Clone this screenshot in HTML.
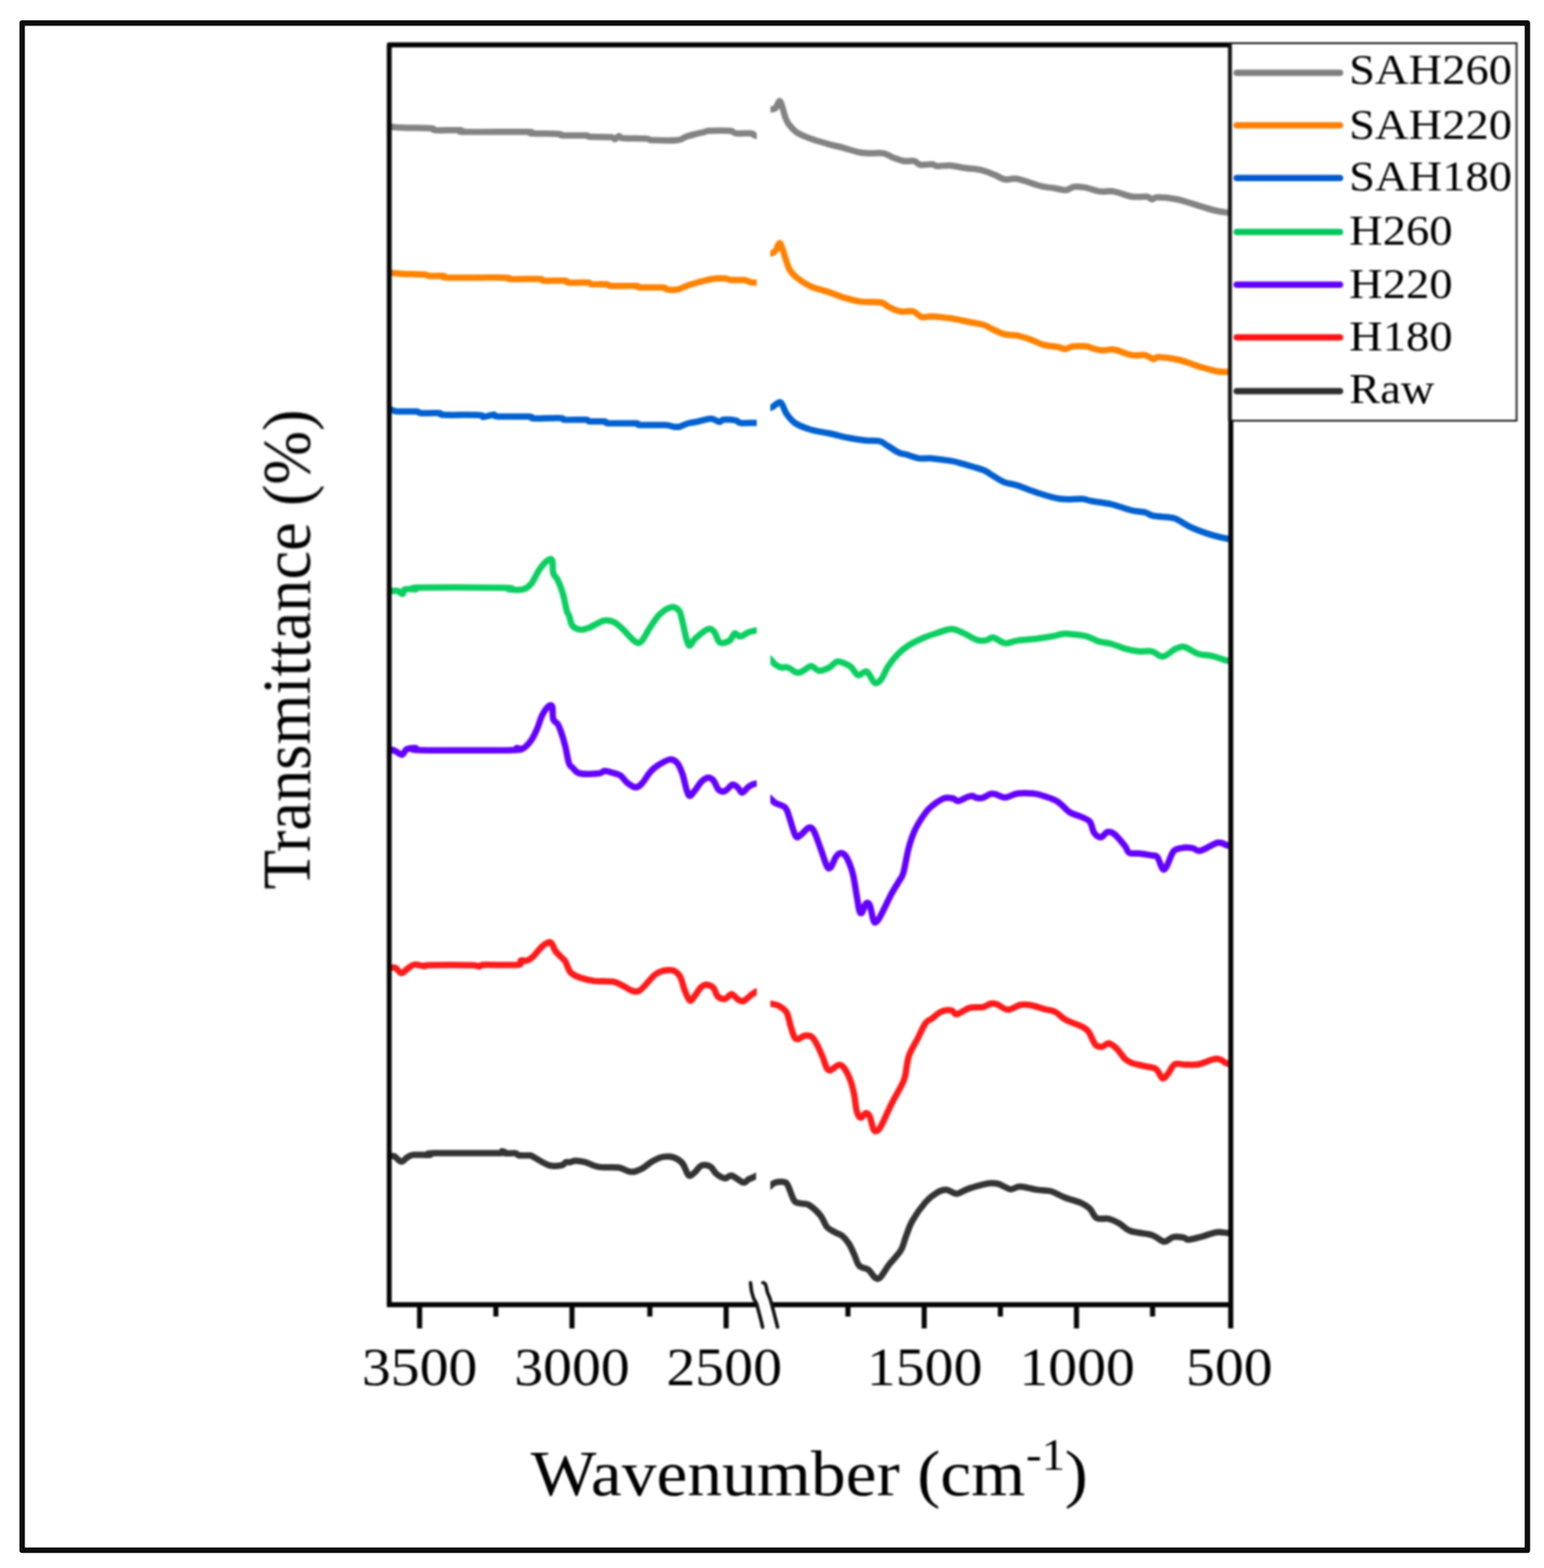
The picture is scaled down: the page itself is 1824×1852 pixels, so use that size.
<!DOCTYPE html>
<html><head><meta charset="utf-8"><title>FTIR spectra</title>
<style>
html,body{margin:0;padding:0;background:#fff;}
body{width:1824px;height:1852px;overflow:hidden;}
svg{display:block;}
text{font-family:"Liberation Serif","Times New Roman",serif;fill:#000;}
</style></head><body>
<svg width="1824" height="1852" viewBox="0 0 1824 1852">
<rect x="0" y="0" width="1824" height="1852" fill="#fff"/>
<!-- outer frame -->
<rect x="26.2" y="27.2" width="1778.2" height="1803.8" fill="none" stroke="#0d0d0d" stroke-width="6.4" stroke-linejoin="round"/>

<defs>
<clipPath id="clipL"><rect x="459" y="53" width="434.2" height="1488"/></clipPath>
<clipPath id="clipR"><rect x="910.2" y="53" width="543" height="1488"/></clipPath>
<filter id="soft" filterUnits="userSpaceOnUse" x="40" y="40" width="1760" height="1780" color-interpolation-filters="sRGB"><feGaussianBlur stdDeviation="0.9"/></filter>
</defs>
<g id="chart" filter="url(#soft)">
<!-- CURVES -->
<g id="curves" fill="none" stroke-width="7.5" stroke-linejoin="round" stroke-linecap="butt">
<path clip-path="url(#clipL)" stroke="#333333" d="M457.0 1365.3 C457.7 1365.3 459.5 1365.2 461.0 1365.3 C462.5 1365.4 463.9 1364.8 466.1 1365.9 C468.3 1367.0 471.6 1371.9 474.1 1372.1 C476.6 1372.3 478.5 1368.4 480.9 1367.1 C483.3 1365.8 483.8 1364.6 488.3 1364.1 C492.8 1363.6 504.1 1364.4 508.0 1364.1 C511.9 1363.8 497.9 1362.3 511.7 1362.0 C525.5 1361.7 577.1 1362.4 590.7 1362.0 C604.3 1361.6 592.2 1359.7 593.2 1359.7 C594.2 1359.7 594.2 1361.8 596.9 1362.2 C599.6 1362.6 606.5 1361.8 609.2 1362.2 C611.9 1362.6 610.2 1364.3 612.9 1364.7 C615.6 1365.1 622.3 1364.4 625.2 1364.7 C628.1 1365.0 626.3 1364.5 630.2 1366.5 C634.1 1368.5 643.2 1374.8 648.7 1376.4 C654.2 1378.1 660.2 1377.0 663.5 1376.4 C666.8 1375.8 666.8 1373.3 668.4 1372.7 C670.0 1372.1 671.3 1373.0 673.3 1372.7 C675.2 1372.4 677.1 1370.9 680.1 1370.9 C683.1 1370.9 686.8 1371.5 691.4 1372.7 C696.0 1374.0 701.3 1377.4 707.8 1378.4 C714.3 1379.5 724.2 1378.0 730.5 1379.0 C736.8 1380.0 741.1 1383.9 745.7 1384.1 C750.3 1384.3 754.1 1382.4 758.3 1380.3 C762.5 1378.2 766.7 1373.8 770.9 1371.5 C775.1 1369.2 779.3 1367.1 783.5 1366.4 C787.7 1365.7 792.3 1365.8 796.1 1367.1 C799.9 1368.4 803.2 1370.4 806.2 1374.0 C809.2 1377.6 811.3 1386.8 813.8 1388.5 C816.3 1390.2 818.8 1386.1 821.3 1384.1 C823.8 1382.1 825.9 1377.5 828.9 1376.5 C831.9 1375.5 836.1 1376.1 839.0 1377.8 C841.9 1379.5 843.6 1384.3 846.5 1386.6 C849.4 1388.9 853.6 1391.4 856.6 1391.7 C859.6 1392.0 860.6 1387.7 864.2 1388.5 C867.8 1389.3 874.7 1396.0 878.1 1396.7 C881.5 1397.4 882.2 1394.1 884.4 1392.9 C886.6 1391.8 889.4 1390.8 891.5 1389.8 C893.6 1388.8 896.1 1387.5 897.0 1387.0"/>
<path clip-path="url(#clipR)" stroke="#333333" d="M906.0 1404.0 C906.8 1403.4 908.9 1401.7 910.5 1400.5 C912.1 1399.3 912.8 1397.6 915.4 1396.9 C918.0 1396.2 923.5 1395.6 926.1 1396.1 C928.7 1396.6 928.7 1396.3 930.7 1400.0 C932.8 1403.7 935.8 1414.8 938.4 1418.4 C941.0 1422.0 943.3 1420.6 946.1 1421.4 C948.9 1422.2 951.5 1420.7 955.3 1423.0 C959.1 1425.3 965.5 1431.0 969.1 1435.3 C972.7 1439.6 974.0 1445.8 976.8 1449.1 C979.6 1452.4 982.9 1453.4 986.0 1455.2 C989.1 1457.0 992.4 1457.5 995.2 1459.8 C998.0 1462.1 1000.6 1465.4 1002.9 1469.0 C1005.2 1472.6 1007.0 1477.0 1009.0 1481.3 C1011.0 1485.6 1012.3 1492.0 1015.1 1495.1 C1017.9 1498.2 1022.8 1497.4 1025.9 1499.7 C1029.0 1502.0 1031.3 1507.5 1033.6 1509.0 C1035.9 1510.5 1036.9 1511.6 1039.7 1509.0 C1042.5 1506.4 1046.3 1499.0 1050.4 1493.6 C1054.5 1488.2 1061.0 1482.3 1064.3 1476.7 C1067.6 1471.1 1068.1 1465.7 1070.4 1459.8 C1072.7 1453.9 1074.3 1448.1 1078.1 1441.4 C1081.9 1434.8 1088.6 1425.4 1093.4 1419.9 C1098.2 1414.4 1103.1 1410.8 1107.2 1408.4 C1111.3 1406.0 1114.2 1405.0 1118.0 1405.3 C1121.8 1405.5 1126.2 1410.0 1130.3 1409.9 C1134.4 1409.8 1137.5 1406.4 1142.6 1404.6 C1147.7 1402.8 1156.4 1400.4 1161.0 1399.2 C1165.6 1398.0 1167.1 1397.7 1170.2 1397.5 C1173.3 1397.3 1175.6 1397.1 1179.5 1398.3 C1183.4 1399.5 1189.5 1404.1 1193.8 1404.6 C1198.0 1405.1 1199.7 1401.4 1205.0 1401.5 C1210.3 1401.6 1219.5 1404.5 1225.6 1405.4 C1231.7 1406.3 1236.2 1405.5 1241.5 1407.0 C1246.8 1408.5 1251.3 1411.8 1257.4 1414.2 C1263.5 1416.6 1273.1 1419.0 1278.1 1421.3 C1283.1 1423.5 1284.7 1424.8 1287.6 1427.7 C1290.5 1430.6 1291.9 1436.8 1295.6 1438.8 C1299.3 1440.8 1305.4 1438.5 1309.9 1439.6 C1314.4 1440.7 1318.4 1442.8 1322.6 1445.2 C1326.8 1447.6 1328.9 1451.7 1335.3 1453.9 C1341.7 1456.2 1354.2 1456.6 1360.8 1458.7 C1367.4 1460.8 1370.9 1466.2 1375.1 1466.6 C1379.3 1467.0 1382.2 1461.9 1386.2 1461.1 C1390.2 1460.3 1396.0 1461.4 1398.9 1461.9 C1401.8 1462.4 1400.5 1464.4 1403.7 1464.3 C1406.9 1464.2 1412.4 1462.6 1418.0 1461.1 C1423.6 1459.6 1431.8 1456.3 1437.1 1455.5 C1442.4 1454.7 1446.6 1456.2 1449.8 1456.3 C1453.0 1456.4 1455.0 1456.3 1456.0 1456.3"/>
<path clip-path="url(#clipL)" stroke="#ff1a1a" d="M457.0 1143.1 C457.7 1143.1 459.3 1143.1 461.0 1143.1 C462.7 1143.1 465.1 1142.1 467.3 1143.1 C469.5 1144.1 471.6 1149.2 474.1 1149.3 C476.6 1149.4 479.5 1145.3 482.1 1143.7 C484.7 1142.1 486.2 1139.8 489.5 1139.4 C492.8 1139.0 499.0 1141.2 501.9 1141.3 C504.8 1141.4 497.6 1140.2 506.8 1140.0 C516.0 1139.8 547.5 1139.8 557.4 1140.0 C567.3 1140.2 563.5 1141.6 566.0 1141.5 C568.5 1141.4 564.6 1139.9 572.2 1139.6 C579.8 1139.3 604.5 1140.4 611.7 1139.6 C618.9 1138.8 613.5 1135.3 615.4 1134.5 C617.2 1133.7 620.3 1135.3 622.8 1134.5 C625.3 1133.7 627.3 1132.2 630.2 1129.5 C633.1 1126.8 636.9 1121.2 640.0 1118.4 C643.1 1115.6 646.6 1113.4 648.7 1112.9 C650.8 1112.4 651.2 1113.8 652.4 1115.5 C653.6 1117.2 654.4 1120.7 656.0 1123.0 C657.6 1125.3 660.1 1127.5 662.0 1129.5 C663.9 1131.5 666.0 1132.8 667.5 1135.0 C669.0 1137.2 669.8 1140.6 671.0 1143.0 C672.2 1145.4 672.7 1147.6 675.0 1149.5 C677.3 1151.4 680.5 1153.1 685.0 1154.6 C689.5 1156.1 695.2 1157.8 701.7 1158.6 C708.2 1159.4 718.6 1158.6 724.2 1159.5 C729.9 1160.4 732.0 1162.4 735.6 1164.1 C739.2 1165.8 742.3 1168.8 745.7 1169.8 C749.1 1170.8 751.2 1172.8 755.8 1169.8 C760.4 1166.8 768.8 1155.4 773.4 1151.5 C778.0 1147.6 779.7 1147.3 783.5 1146.5 C787.3 1145.7 792.7 1145.2 796.1 1146.5 C799.5 1147.8 801.6 1150.2 803.7 1154.0 C805.8 1157.8 806.8 1164.6 808.7 1169.2 C810.6 1173.8 812.9 1180.8 815.0 1181.8 C817.1 1182.8 819.2 1178.0 821.3 1175.5 C823.4 1173.0 825.5 1168.8 827.6 1166.7 C829.7 1164.6 831.4 1162.9 833.9 1162.9 C836.4 1162.9 840.5 1164.4 842.8 1166.7 C845.1 1169.0 845.5 1174.5 847.8 1176.7 C850.1 1178.9 853.9 1180.3 856.6 1179.9 C859.3 1179.5 861.7 1174.1 864.2 1174.2 C866.7 1174.3 869.5 1179.1 871.8 1180.5 C874.1 1181.9 875.6 1183.2 878.1 1182.4 C880.6 1181.6 884.8 1177.1 886.9 1175.5 C889.0 1173.9 889.0 1174.1 890.7 1173.0 C892.4 1171.9 896.0 1169.7 897.0 1169.0"/>
<path clip-path="url(#clipR)" stroke="#ff1a1a" d="M906.0 1185.5 C906.9 1185.5 909.2 1185.3 911.5 1185.7 C913.8 1186.1 917.0 1186.3 920.0 1188.0 C923.0 1189.7 926.9 1191.9 929.2 1195.7 C931.5 1199.5 932.3 1206.2 933.8 1211.1 C935.3 1216.0 936.9 1222.2 938.4 1224.9 C939.9 1227.6 941.0 1227.5 943.0 1227.2 C945.0 1226.9 948.2 1223.8 950.7 1223.3 C953.2 1222.8 956.0 1222.6 958.3 1224.1 C960.6 1225.6 962.2 1228.3 964.5 1232.5 C966.8 1236.7 970.2 1244.5 972.2 1249.4 C974.2 1254.3 975.3 1259.3 976.8 1261.7 C978.3 1264.1 979.1 1264.6 981.4 1264.0 C983.7 1263.4 988.0 1258.4 990.6 1257.9 C993.2 1257.4 994.4 1258.0 996.7 1260.9 C999.0 1263.8 1002.4 1270.2 1004.4 1275.5 C1006.4 1280.8 1007.7 1286.2 1009.0 1292.4 C1010.3 1298.6 1010.8 1307.8 1012.1 1312.4 C1013.4 1317.0 1014.9 1319.7 1016.7 1320.1 C1018.5 1320.5 1021.0 1315.0 1022.8 1314.7 C1024.6 1314.4 1025.9 1315.3 1027.4 1318.5 C1028.9 1321.7 1030.5 1331.1 1032.0 1333.9 C1033.5 1336.7 1035.1 1336.2 1036.6 1335.4 C1038.1 1334.6 1038.4 1334.7 1041.2 1329.3 C1044.0 1323.9 1049.9 1310.4 1053.5 1303.2 C1057.1 1296.0 1060.1 1291.4 1062.7 1286.3 C1065.3 1281.2 1067.1 1278.9 1068.9 1272.5 C1070.7 1266.1 1071.0 1255.6 1073.5 1247.9 C1076.0 1240.2 1080.9 1233.0 1084.2 1226.4 C1087.5 1219.8 1090.6 1212.4 1093.4 1208.5 C1096.2 1204.6 1097.9 1205.3 1101.0 1203.0 C1104.1 1200.7 1108.1 1196.5 1111.9 1194.9 C1115.8 1193.3 1121.0 1192.9 1124.1 1193.4 C1127.2 1193.9 1126.7 1198.5 1130.3 1198.0 C1133.9 1197.5 1140.5 1191.7 1145.6 1190.3 C1150.7 1188.9 1156.9 1190.4 1161.0 1189.6 C1165.1 1188.8 1167.4 1186.1 1170.2 1185.5 C1173.0 1184.9 1174.5 1185.0 1177.9 1186.2 C1181.3 1187.4 1186.2 1192.5 1190.7 1192.6 C1195.2 1192.7 1200.5 1187.9 1205.0 1187.0 C1209.5 1186.1 1212.9 1186.5 1217.7 1187.3 C1222.5 1188.1 1228.8 1190.5 1233.6 1191.8 C1238.4 1193.1 1242.1 1192.9 1246.3 1195.0 C1250.5 1197.1 1253.7 1201.6 1259.0 1204.5 C1264.3 1207.4 1273.6 1210.1 1278.1 1212.5 C1282.6 1214.9 1283.4 1215.2 1286.1 1218.8 C1288.8 1222.4 1291.3 1231.0 1294.0 1233.9 C1296.7 1236.8 1299.3 1236.6 1302.0 1236.3 C1304.7 1236.0 1307.0 1231.9 1309.9 1232.3 C1312.8 1232.7 1316.2 1235.7 1319.4 1238.7 C1322.6 1241.8 1326.1 1247.8 1329.0 1250.6 C1331.9 1253.4 1332.9 1253.9 1336.9 1255.4 C1340.9 1256.9 1348.0 1258.2 1352.8 1259.4 C1357.6 1260.6 1362.0 1260.1 1365.5 1262.5 C1369.0 1264.9 1371.1 1272.8 1373.5 1273.7 C1375.9 1274.6 1377.5 1270.9 1379.9 1268.1 C1382.3 1265.3 1384.4 1258.8 1387.8 1257.0 C1391.2 1255.2 1395.7 1257.5 1400.5 1257.5 C1405.3 1257.5 1410.3 1258.2 1416.4 1257.0 C1422.5 1255.8 1431.5 1250.7 1437.1 1250.6 C1442.7 1250.5 1446.6 1255.3 1449.8 1256.2 C1453.0 1257.1 1455.0 1256.2 1456.0 1256.2"/>
<path clip-path="url(#clipL)" stroke="#6400ff" d="M457.0 885.3 C457.7 885.3 459.3 885.0 461.0 885.3 C462.7 885.6 465.0 886.2 467.3 887.2 C469.6 888.2 472.4 891.9 474.7 891.5 C477.0 891.1 478.2 886.0 480.9 884.7 C483.6 883.4 488.3 883.3 490.8 883.5 C493.3 883.7 476.4 885.5 495.7 885.9 C515.0 886.3 587.6 886.3 606.7 885.9 C625.8 885.5 608.5 883.8 610.4 883.5 C612.2 883.2 614.9 885.6 617.8 884.1 C620.7 882.6 624.8 878.3 627.7 874.2 C630.6 870.1 633.1 864.1 635.1 859.4 C637.1 854.7 638.0 849.9 640.0 845.8 C642.0 841.7 645.3 836.6 647.4 834.7 C649.5 832.9 651.4 832.2 652.4 834.7 C653.4 837.2 652.4 845.8 653.6 849.5 C654.8 853.2 657.5 852.0 659.8 856.9 C662.1 861.8 665.2 871.7 667.2 879.1 C669.2 886.5 670.6 896.7 672.1 901.3 C673.6 905.9 674.1 904.6 676.3 906.6 C678.5 908.6 679.9 912.4 685.1 913.5 C690.4 914.6 703.0 914.0 707.8 913.5 C712.6 913.0 711.4 910.5 714.1 910.4 C716.8 910.3 721.0 912.0 724.2 912.9 C727.4 913.8 730.4 914.1 733.1 916.0 C735.8 917.9 737.7 921.9 740.6 924.2 C743.5 926.5 747.8 929.7 750.7 929.9 C753.7 930.1 755.3 928.5 758.3 925.5 C761.2 922.5 765.2 915.2 768.4 911.6 C771.5 908.0 773.4 906.4 777.2 904.0 C781.0 901.6 787.3 897.6 791.1 897.1 C794.9 896.6 797.4 898.1 799.9 900.9 C802.4 903.7 804.3 908.7 806.2 914.1 C808.1 919.5 809.7 928.8 811.2 933.1 C812.7 937.4 813.3 940.0 815.0 940.0 C816.7 940.0 819.0 935.9 821.3 933.1 C823.6 930.3 826.4 925.4 828.9 923.0 C831.4 920.6 834.2 918.7 836.5 918.5 C838.8 918.3 840.7 919.3 842.8 921.7 C844.9 924.1 846.8 931.0 849.1 933.1 C851.4 935.2 853.9 935.4 856.6 934.3 C859.3 933.2 863.0 927.3 865.5 926.7 C868.0 926.1 869.9 928.9 871.8 930.5 C873.7 932.1 874.7 936.4 876.8 936.2 C878.9 936.0 882.1 931.0 884.4 929.3 C886.7 927.6 888.6 926.7 890.7 926.0 C892.8 925.3 896.0 925.2 897.0 925.0"/>
<path clip-path="url(#clipR)" stroke="#6400ff" d="M906.0 939.5 C906.8 940.2 908.8 942.0 910.5 943.5 C912.2 945.0 913.1 946.8 916.0 948.5 C918.9 950.2 924.9 951.1 927.6 953.8 C930.3 956.5 930.2 958.9 932.2 964.5 C934.2 970.1 937.6 983.9 939.9 987.5 C942.2 991.1 943.5 987.6 946.1 986.0 C948.7 984.4 952.8 978.4 955.3 977.6 C957.8 976.8 959.1 977.4 961.4 981.4 C963.7 985.4 966.5 994.5 969.1 1001.4 C971.7 1008.3 974.8 1019.1 976.8 1022.9 C978.8 1026.7 979.6 1026.2 981.4 1024.4 C983.2 1022.6 985.5 1014.9 987.5 1012.1 C989.5 1009.3 991.6 1007.5 993.6 1007.5 C995.6 1007.5 997.5 1008.0 999.8 1012.1 C1002.1 1016.2 1005.5 1024.4 1007.5 1032.1 C1009.5 1039.8 1010.8 1051.0 1012.1 1058.2 C1013.4 1065.4 1014.1 1071.8 1015.1 1075.1 C1016.1 1078.4 1016.9 1079.4 1018.2 1078.1 C1019.5 1076.8 1021.3 1068.9 1022.8 1067.4 C1024.3 1065.9 1025.9 1065.6 1027.4 1068.9 C1028.9 1072.2 1030.7 1084.0 1032.0 1087.3 C1033.3 1090.6 1033.8 1089.7 1035.1 1088.9 C1036.4 1088.1 1036.6 1088.3 1039.7 1082.7 C1042.8 1077.1 1049.7 1062.3 1053.5 1055.1 C1057.3 1047.9 1060.4 1043.8 1062.7 1039.7 C1065.0 1035.6 1065.5 1036.9 1067.3 1030.5 C1069.1 1024.1 1071.2 1009.8 1073.5 1001.4 C1075.8 993.0 1077.8 986.8 1081.1 979.9 C1084.4 973.0 1089.8 964.8 1093.4 959.9 C1097.0 955.0 1099.0 953.5 1102.6 950.7 C1106.2 947.9 1111.1 944.3 1114.9 943.0 C1118.8 941.7 1122.9 942.5 1125.7 943.0 C1128.5 943.5 1129.0 946.4 1131.8 946.1 C1134.6 945.9 1139.8 942.5 1142.6 941.5 C1145.4 940.5 1146.9 939.9 1148.7 940.0 C1150.5 940.1 1151.2 941.9 1153.3 942.3 C1155.3 942.7 1158.2 943.1 1161.0 942.3 C1163.8 941.5 1167.6 938.4 1170.2 937.7 C1172.8 937.0 1173.5 937.4 1176.4 938.1 C1179.3 938.8 1183.3 942.1 1187.5 942.0 C1191.7 941.9 1196.2 938.1 1201.8 937.3 C1207.4 936.5 1215.6 936.8 1220.9 937.3 C1226.2 937.8 1228.8 938.8 1233.6 940.4 C1238.4 942.0 1244.5 943.6 1249.5 946.8 C1254.5 950.0 1259.0 956.5 1263.8 959.5 C1268.6 962.5 1274.1 963.2 1278.1 965.1 C1282.1 967.0 1285.2 967.6 1287.6 970.6 C1290.0 973.6 1290.3 980.4 1292.4 983.4 C1294.5 986.4 1297.8 989.0 1300.4 988.9 C1303.1 988.8 1305.7 983.2 1308.3 982.6 C1310.9 982.0 1312.8 982.2 1316.3 985.0 C1319.8 987.8 1326.1 995.6 1329.0 999.3 C1331.9 1003.0 1331.1 1005.8 1333.8 1007.2 C1336.5 1008.7 1340.4 1007.5 1344.9 1008.0 C1349.4 1008.5 1357.1 1009.7 1360.8 1010.4 C1364.5 1011.1 1365.0 1009.4 1367.1 1012.0 C1369.2 1014.6 1371.6 1024.5 1373.5 1026.3 C1375.4 1028.1 1376.2 1026.5 1378.3 1023.1 C1380.4 1019.7 1383.3 1009.2 1386.2 1005.6 C1389.1 1002.0 1392.1 1002.3 1395.8 1001.6 C1399.5 1000.9 1404.8 1001.1 1408.5 1001.6 C1412.2 1002.1 1413.0 1005.8 1418.0 1004.8 C1423.0 1003.8 1433.4 996.3 1438.7 995.3 C1444.0 994.2 1446.9 998.0 1449.8 998.5 C1452.7 999.0 1455.0 998.5 1456.0 998.5"/>
<path clip-path="url(#clipL)" stroke="#0bcf60" d="M457.0 698.0 C457.7 698.0 458.9 698.0 461.0 698.0 C463.1 698.0 467.4 697.4 469.8 698.0 C472.2 698.6 474.1 701.8 475.5 701.5 C476.9 701.2 475.8 696.9 478.5 696.0 C481.2 695.1 488.8 696.3 491.5 696.0 C494.2 695.7 477.4 694.3 495.0 694.0 C512.6 693.7 579.3 693.9 596.9 694.2 C614.5 694.6 597.1 695.8 600.6 696.1 C604.1 696.4 613.3 697.2 617.8 696.1 C622.3 695.0 624.4 693.3 627.7 689.3 C631.0 685.3 634.3 676.7 637.6 672.1 C640.9 667.5 644.9 663.2 647.4 661.6 C649.9 660.0 651.4 659.6 652.4 662.2 C653.4 664.8 652.6 673.3 653.6 677.0 C654.6 680.7 656.6 680.5 658.5 684.4 C660.4 688.3 662.9 694.2 664.7 700.4 C666.6 706.6 668.3 716.8 669.6 721.4 C670.9 726.0 671.4 724.8 672.5 727.8 C673.6 730.8 674.2 736.6 676.3 739.2 C678.4 741.8 682.0 743.2 685.1 743.6 C688.2 744.0 691.8 742.9 695.2 741.7 C698.6 740.6 702.1 738.2 705.3 736.7 C708.4 735.2 710.7 733.2 714.1 732.9 C717.5 732.6 721.9 733.1 725.5 734.8 C729.1 736.5 731.4 739.1 735.6 743.0 C739.8 746.9 746.9 755.8 750.7 758.1 C754.5 760.4 755.3 759.8 758.3 756.8 C761.2 753.8 764.8 745.6 768.4 740.4 C772.0 735.1 775.5 729.2 779.7 725.3 C783.9 721.4 789.8 717.7 793.6 717.1 C797.4 716.5 800.3 718.7 802.4 721.5 C804.5 724.3 804.7 728.4 806.2 734.1 C807.7 739.8 809.7 750.9 811.2 755.6 C812.7 760.3 813.3 762.7 815.0 762.5 C816.7 762.3 817.7 757.5 821.3 754.3 C824.9 751.0 832.7 744.3 836.5 743.0 C840.3 741.7 841.7 744.1 844.0 746.7 C846.3 749.3 847.3 757.0 850.3 758.7 C853.2 760.4 858.8 758.6 861.7 756.8 C864.7 755.0 865.9 748.8 868.0 748.0 C870.1 747.2 871.6 752.0 874.3 751.8 C877.0 751.6 881.5 747.8 884.4 746.7 C887.3 745.6 889.4 745.5 891.5 745.0 C893.6 744.5 896.1 743.8 897.0 743.5"/>
<path clip-path="url(#clipR)" stroke="#0bcf60" d="M906.0 775.5 C906.8 776.1 908.8 777.4 910.5 779.0 C912.2 780.6 913.9 783.5 916.0 785.0 C918.1 786.5 920.5 787.8 923.0 788.3 C925.5 788.8 927.6 787.3 930.7 788.3 C933.8 789.3 938.3 793.9 941.4 794.5 C944.5 795.1 946.3 793.5 949.1 792.2 C951.9 790.9 955.2 786.8 958.3 786.8 C961.4 786.8 963.9 792.0 967.5 792.2 C971.1 792.5 976.2 790.1 979.8 788.3 C983.4 786.5 985.7 782.0 989.0 781.4 C992.3 780.8 997.0 783.4 999.8 784.5 C1002.6 785.6 1003.6 786.1 1005.9 788.3 C1008.2 790.5 1010.8 796.7 1013.6 797.5 C1016.4 798.3 1020.5 792.9 1022.8 792.9 C1025.1 792.9 1025.6 795.2 1027.4 797.5 C1029.2 799.8 1031.3 805.9 1033.6 806.7 C1035.9 807.5 1038.7 805.3 1041.2 802.1 C1043.8 798.9 1045.6 792.5 1048.9 787.5 C1052.2 782.5 1057.1 776.4 1061.2 772.2 C1065.3 768.0 1068.4 765.4 1073.5 762.2 C1078.6 759.0 1086.3 755.4 1091.9 753.0 C1097.5 750.6 1101.8 749.3 1107.2 747.6 C1112.6 745.9 1119.0 743.0 1124.1 743.0 C1129.2 743.0 1132.8 745.4 1137.9 747.6 C1143.0 749.8 1150.2 754.7 1154.8 756.1 C1159.4 757.5 1162.5 756.6 1165.6 756.1 C1168.7 755.6 1169.6 752.4 1173.3 753.0 C1177.0 753.6 1182.8 759.1 1187.5 759.7 C1192.2 760.3 1195.5 757.5 1201.8 756.6 C1208.1 755.7 1219.0 755.0 1225.6 754.2 C1232.2 753.4 1236.2 752.7 1241.5 751.8 C1246.8 750.9 1252.9 749.0 1257.4 748.6 C1261.9 748.2 1264.1 748.9 1268.6 749.4 C1273.1 749.9 1279.7 750.5 1284.5 751.8 C1289.3 753.1 1292.4 755.9 1297.2 757.4 C1302.0 758.9 1307.8 759.0 1313.1 760.5 C1318.4 762.0 1323.7 764.6 1329.0 766.1 C1334.3 767.6 1339.6 768.8 1344.9 769.3 C1350.2 769.8 1356.0 768.2 1360.8 769.3 C1365.6 770.3 1369.0 776.0 1373.5 775.6 C1378.0 775.2 1383.8 768.9 1387.8 766.9 C1391.8 764.9 1394.6 763.8 1397.3 763.7 C1400.0 763.6 1400.5 764.6 1403.7 766.1 C1406.9 767.6 1411.6 771.0 1416.4 772.5 C1421.2 774.0 1426.7 773.5 1432.3 774.8 C1437.9 776.1 1445.8 779.5 1449.8 780.4 C1453.8 781.3 1455.0 780.4 1456.0 780.4"/>
<path clip-path="url(#clipL)" stroke="#0060d0" d="M457.0 483.5 C457.7 483.5 459.1 483.1 461.2 483.5 C463.3 483.9 464.7 485.6 469.8 486.0 C474.9 486.4 487.5 485.7 492.0 486.0 C496.5 486.3 492.5 487.6 497.0 487.9 C501.5 488.2 514.7 487.5 519.2 487.9 C523.7 488.2 516.3 489.6 524.1 490.0 C531.9 490.4 558.2 489.8 566.0 490.2 C573.8 490.6 568.1 492.6 571.0 492.5 C573.9 492.4 580.4 489.9 583.3 489.8 C586.2 489.7 581.2 491.6 588.2 492.0 C595.2 492.4 618.2 491.6 625.2 492.0 C632.2 492.4 624.0 494.0 630.2 494.3 C636.4 494.6 656.1 493.6 662.3 493.9 C668.5 494.1 662.3 495.5 667.2 495.8 C672.1 496.1 687.0 495.5 691.9 495.8 C696.8 496.1 693.1 497.5 696.8 497.8 C700.5 498.1 710.4 497.4 714.1 497.8 C717.8 498.2 712.8 499.6 719.0 500.0 C725.2 500.4 744.9 499.7 751.1 500.0 C757.3 500.3 750.2 501.7 756.0 502.0 C761.8 502.3 779.0 501.7 785.6 502.0 C792.2 502.3 792.6 503.7 795.5 504.0 C798.4 504.3 800.0 504.7 802.9 504.0 C805.8 503.3 809.1 501.0 812.8 500.0 C816.5 499.0 820.6 498.7 825.1 497.8 C829.6 496.9 835.8 494.5 839.9 494.6 C844.0 494.7 847.3 498.1 849.8 498.3 C852.3 498.5 851.4 496.1 854.7 495.8 C858.0 495.5 866.2 496.0 869.5 496.6 C872.8 497.2 870.7 499.0 874.4 499.5 C878.1 500.0 887.9 499.5 891.7 499.5 C895.5 499.5 896.1 499.5 897.0 499.5"/>
<path clip-path="url(#clipR)" stroke="#0060d0" d="M906.0 482.0 C907.0 481.9 909.9 481.9 911.8 481.1 C913.6 480.3 915.5 478.3 917.1 477.3 C918.7 476.3 920.4 474.9 921.6 475.1 C922.9 475.4 923.4 476.6 924.6 478.8 C925.9 481.1 926.6 485.1 929.1 488.6 C931.6 492.1 934.9 496.9 939.7 500.0 C944.5 503.1 951.0 505.5 957.8 507.5 C964.6 509.5 972.9 510.4 980.4 512.0 C987.9 513.6 996.0 515.9 1003.0 517.3 C1010.0 518.7 1016.6 519.7 1022.6 520.3 C1028.6 520.9 1034.9 520.1 1039.2 521.1 C1043.5 522.1 1044.4 524.0 1048.2 526.3 C1052.0 528.5 1058.0 532.8 1061.8 534.6 C1065.6 536.4 1066.8 535.8 1070.8 536.9 C1074.8 538.0 1080.9 540.6 1085.9 541.4 C1090.9 542.1 1094.7 540.9 1101.0 541.4 C1107.3 541.9 1117.3 543.3 1123.6 544.4 C1129.9 545.5 1132.4 546.4 1138.7 548.2 C1145.0 550.0 1156.1 553.0 1161.3 555.0 C1166.5 557.0 1165.9 557.5 1170.0 559.9 C1174.1 562.3 1180.6 567.1 1185.9 569.4 C1191.2 571.6 1195.2 571.3 1201.8 573.4 C1208.4 575.5 1217.1 579.5 1225.6 582.1 C1234.1 584.8 1244.0 588.1 1252.7 589.3 C1261.5 590.5 1272.0 588.9 1278.1 589.3 C1284.2 589.7 1283.4 590.7 1289.2 591.7 C1295.0 592.8 1305.1 593.8 1313.1 595.6 C1321.0 597.5 1330.3 601.2 1336.9 602.8 C1343.5 604.4 1348.5 604.1 1352.8 605.2 C1357.0 606.3 1357.1 608.2 1362.4 609.2 C1367.7 610.2 1379.6 610.6 1384.6 611.5 C1389.6 612.4 1388.6 612.7 1392.6 614.7 C1396.6 616.7 1401.9 620.6 1408.5 623.5 C1415.1 626.4 1425.4 630.1 1432.3 632.2 C1439.2 634.3 1445.8 635.5 1449.8 636.2 C1453.8 636.9 1455.0 636.2 1456.0 636.2"/>
<path clip-path="url(#clipL)" stroke="#ff8200" d="M457.0 322.2 C457.7 322.2 458.2 322.0 461.2 322.2 C464.1 322.4 467.9 323.1 474.7 323.4 C481.5 323.7 496.5 323.8 501.9 324.2 C507.2 324.6 503.1 325.6 506.8 325.9 C510.5 326.2 520.4 325.6 524.1 325.9 C527.8 326.2 517.1 327.6 529.0 327.9 C540.9 328.2 583.3 327.6 595.6 327.9 C607.9 328.2 596.0 329.3 603.0 329.6 C610.0 329.9 631.0 329.3 637.6 329.6 C644.2 329.9 637.6 331.3 642.5 331.6 C647.4 331.9 662.3 331.2 667.2 331.6 C672.1 332.0 667.6 333.4 672.1 333.8 C676.6 334.2 689.8 333.5 694.3 333.8 C698.8 334.1 695.6 335.5 699.3 335.8 C703.0 336.1 712.8 335.5 716.5 335.8 C720.2 336.1 715.7 337.4 721.5 337.7 C727.3 338.0 745.4 337.4 751.1 337.7 C756.9 338.0 750.6 339.2 756.0 339.5 C761.4 339.8 777.9 339.1 783.2 339.5 C788.6 339.9 785.2 341.5 788.1 341.9 C791.0 342.3 796.3 342.7 800.4 341.9 C804.5 341.1 808.7 338.4 812.8 337.0 C816.9 335.6 821.4 334.3 825.1 333.3 C828.8 332.3 831.7 331.5 835.0 330.8 C838.3 330.1 841.1 329.4 844.8 329.1 C848.5 328.8 853.9 328.8 857.2 329.1 C860.5 329.4 860.9 330.5 864.6 330.8 C868.3 331.1 875.7 330.4 879.4 330.8 C883.1 331.2 884.8 332.8 886.8 333.3 C888.8 333.8 890.0 333.7 891.7 333.8 C893.4 333.9 896.1 334.0 897.0 334.0"/>
<path clip-path="url(#clipR)" stroke="#ff8200" d="M906.0 298.8 C907.0 298.9 910.1 299.6 911.8 299.1 C913.5 298.7 914.8 298.1 916.3 296.1 C917.8 294.1 919.4 287.4 920.8 287.1 C922.2 286.9 923.3 291.3 924.6 294.6 C925.9 297.9 927.0 302.7 928.4 306.7 C929.8 310.7 930.8 315.2 932.9 318.7 C935.0 322.2 937.1 324.5 941.2 327.8 C945.4 331.1 951.8 335.5 957.8 338.3 C963.8 341.1 971.1 342.3 977.4 344.4 C983.7 346.5 988.7 349.1 995.5 351.1 C1002.3 353.1 1010.6 355.4 1018.1 356.4 C1025.6 357.4 1035.4 356.2 1040.7 357.2 C1046.0 358.2 1045.9 360.6 1049.7 362.4 C1053.5 364.1 1058.5 366.8 1063.3 367.7 C1068.1 368.6 1074.1 366.6 1078.4 367.7 C1082.7 368.8 1085.1 373.5 1088.9 374.5 C1092.7 375.5 1095.2 373.4 1101.0 373.7 C1106.8 373.9 1117.3 375.1 1123.6 376.0 C1129.9 376.9 1132.4 377.8 1138.7 379.0 C1145.0 380.2 1156.1 382.1 1161.3 383.5 C1166.5 384.9 1165.9 385.7 1170.0 387.6 C1174.1 389.5 1180.6 393.2 1185.9 394.7 C1191.2 396.1 1196.5 395.2 1201.8 396.3 C1207.1 397.4 1212.4 399.2 1217.7 401.1 C1223.0 403.0 1228.3 406.1 1233.6 407.5 C1238.9 408.9 1245.3 409.0 1249.5 409.8 C1253.7 410.6 1256.1 412.3 1259.0 412.2 C1261.9 412.1 1263.0 409.6 1267.0 409.1 C1271.0 408.6 1278.9 408.7 1282.9 409.1 C1286.9 409.5 1287.6 410.6 1290.8 411.4 C1294.0 412.2 1297.8 413.5 1302.0 413.8 C1306.2 414.1 1310.5 412.1 1316.3 413.0 C1322.1 413.9 1330.8 418.3 1336.9 419.4 C1343.0 420.5 1348.5 418.6 1352.8 419.4 C1357.0 420.2 1359.8 423.8 1362.4 424.2 C1365.1 424.6 1363.7 421.7 1368.7 421.8 C1373.7 421.9 1384.6 423.1 1392.6 425.0 C1400.5 426.9 1409.0 430.6 1416.4 432.9 C1423.8 435.1 1431.5 437.4 1437.1 438.5 C1442.7 439.6 1446.6 439.2 1449.8 439.3 C1453.0 439.4 1455.0 439.3 1456.0 439.3"/>
<path clip-path="url(#clipL)" stroke="#838383" d="M457.0 149.6 C457.7 149.6 458.2 149.4 461.2 149.6 C464.1 149.8 466.7 150.5 474.7 150.8 C482.7 151.1 502.7 151.1 509.3 151.6 C515.9 152.1 508.5 153.4 514.2 153.8 C520.0 154.2 538.0 153.5 543.8 153.8 C549.6 154.1 535.6 155.5 548.8 155.8 C562.0 156.1 609.6 155.5 622.8 155.8 C635.9 156.1 621.5 157.1 627.7 157.5 C633.9 157.9 653.6 157.8 659.8 158.2 C666.0 158.6 659.4 159.7 664.7 160.0 C670.1 160.3 686.5 159.8 691.9 160.0 C697.2 160.2 691.9 161.2 696.8 161.5 C701.7 161.8 716.6 161.5 721.5 162.0 C726.4 162.5 724.8 164.6 726.4 164.4 C728.0 164.2 729.6 160.9 731.3 160.7 C732.9 160.5 730.9 162.7 736.3 163.2 C741.6 163.7 757.6 163.3 763.4 163.7 C769.1 164.1 764.6 165.3 770.8 165.6 C777.0 165.9 793.8 166.3 800.4 165.6 C807.0 164.9 807.0 162.7 810.3 161.5 C813.6 160.3 816.5 159.6 820.2 158.7 C823.9 157.8 829.6 156.5 832.5 155.8 C835.4 155.1 832.5 154.7 837.4 154.5 C842.3 154.3 856.8 154.0 862.1 154.5 C867.5 155.0 865.4 157.0 869.5 157.5 C873.6 158.0 883.1 157.1 886.8 157.5 C890.5 157.9 890.0 159.3 891.7 160.0 C893.4 160.7 896.1 161.2 897.0 161.5"/>
<path clip-path="url(#clipR)" stroke="#838383" d="M906.0 129.0 C907.0 129.0 910.1 129.3 911.8 129.1 C913.5 128.9 914.8 129.2 916.3 127.6 C917.8 126.0 919.4 119.3 920.8 119.3 C922.2 119.3 923.5 124.4 924.6 127.6 C925.7 130.8 926.4 134.9 927.6 138.2 C928.9 141.5 929.8 144.2 932.1 147.2 C934.4 150.2 936.9 153.5 941.2 156.3 C945.5 159.1 951.8 161.6 957.8 163.8 C963.8 166.1 971.1 168.0 977.4 169.8 C983.7 171.6 989.5 172.8 995.5 174.4 C1001.5 176.0 1008.5 178.5 1013.5 179.6 C1018.5 180.7 1020.6 180.8 1025.6 181.1 C1030.6 181.3 1038.7 180.2 1043.7 181.1 C1048.7 182.0 1051.8 184.9 1055.8 186.4 C1059.8 187.9 1063.8 189.6 1067.8 190.2 C1071.8 190.8 1076.6 189.4 1079.9 190.2 C1083.2 190.9 1083.9 194.1 1087.4 194.7 C1090.9 195.3 1097.7 193.8 1101.0 194.0 C1104.3 194.2 1103.5 195.9 1107.0 196.2 C1110.5 196.4 1116.6 195.1 1122.1 195.5 C1127.6 195.9 1134.2 197.6 1140.2 198.5 C1146.2 199.4 1152.5 199.3 1158.3 200.7 C1164.1 202.0 1170.1 204.7 1175.0 206.6 C1179.9 208.5 1183.1 211.2 1187.5 212.0 C1191.9 212.8 1194.6 210.0 1201.6 211.3 C1208.6 212.6 1222.4 218.0 1229.7 219.8 C1237.0 221.6 1240.3 221.4 1245.3 222.2 C1250.2 223.0 1255.5 224.8 1259.4 224.5 C1263.3 224.2 1265.2 221.1 1268.8 220.6 C1272.4 220.1 1276.1 220.5 1281.3 221.4 C1286.5 222.3 1294.3 225.3 1300.0 226.1 C1305.7 226.9 1309.3 225.1 1315.6 226.1 C1321.8 227.1 1331.0 231.3 1337.5 232.3 C1344.0 233.3 1350.8 231.8 1354.7 232.3 C1358.6 232.8 1358.8 235.4 1360.9 235.5 C1363.0 235.6 1362.2 233.1 1367.2 233.1 C1372.2 233.1 1383.6 234.2 1390.6 235.5 C1397.6 236.8 1402.4 238.8 1409.4 240.9 C1416.4 243.0 1426.0 246.3 1432.8 248.0 C1439.6 249.7 1446.1 250.6 1450.0 251.1 C1453.9 251.6 1455.0 251.1 1456.0 251.1"/>
</g>

<!-- axes -->
<g stroke="#050505" stroke-width="5.8" fill="none" stroke-linecap="butt">
<path d="M459.8 1541 V53 H1454 V1541" stroke-linejoin="round"/>
<path d="M457 1541 H893.6 M910.7 1541 H1454"/>
<path d="M495.7 1541 V1569 M675.7 1541 V1569 M857.8 1541 V1569 M1091.8 1541 V1569 M1271.7 1541 V1569 M1453.9 1541 V1569" stroke-width="6"/>
<path d="M585.8 1541 V1555 M767.7 1541 V1555 M1001.7 1541 V1555 M1181.8 1541 V1555 M1361.6 1541 V1555" stroke-width="6"/>
</g>
<!-- break marks -->
<g stroke="#111" stroke-width="4.2" fill="none" stroke-linecap="round" stroke-linejoin="round">
<path d="M886.6 1515.2 L887.8 1525 L890.2 1533.5 L893.8 1539.8 L896.5 1550 L899 1559.5 L900.9 1567.6"/>
<path d="M901.3 1515 Q904.6 1515.4 905.3 1520.5 L906.6 1526.5 L909.4 1533 L911.5 1540 L914.4 1551 L918.6 1567.4"/>
</g>

<!-- tick labels -->
<g font-size="64" text-anchor="middle">
<text transform="translate(495.7 1635.5) scale(1.067 1)">3500</text>
<text transform="translate(675.7 1635.5) scale(1.067 1)">3000</text>
<text transform="translate(855.5 1635.5) scale(1.067 1)">2500</text>
<text transform="translate(1092.3 1635.5) scale(1.067 1)">1500</text>
<text transform="translate(1272.4 1635.5) scale(1.067 1)">1000</text>
<text transform="translate(1452.3 1635.5) scale(1.067 1)">500</text>
</g>

<!-- axis titles -->
<text font-size="77" transform="translate(627 1766) scale(1.067 1)">Wavenumber (cm</text>
<text font-size="52" transform="translate(1211.9 1735.8) scale(1.067 1)">-1</text>
<text font-size="77" transform="translate(1257.7 1766) scale(1.067 1)">)</text>
<text font-size="76.3" transform="translate(365.5 1050.5) rotate(-90) scale(1 1.067)">Transmittance (%)</text>

<!-- legend -->
<rect x="1453" y="51" width="338.6" height="445.9" fill="#fff" stroke="#0a0a0a" stroke-width="2"/>
<path d="M1453 51 V497" stroke="#111" stroke-width="4.6"/>
<g stroke-width="7.5" stroke-linecap="round" fill="none">
<path d="M1461 86 H1583" stroke="#7f7f7f"/>
<path d="M1461 148 H1583" stroke="#ff7f00"/>
<path d="M1461 210.2 H1583" stroke="#0059cc"/>
<path d="M1461 274 H1583" stroke="#00c75a"/>
<path d="M1461 336.3 H1583" stroke="#6000ff"/>
<path d="M1461 398.6 H1583" stroke="#ff1212"/>
<path d="M1461 462 H1583" stroke="#2e2e2e"/>
</g>
<g font-size="51.5">
<text transform="translate(1593.8 99.4) scale(1.067 1)">SAH260</text>
<text transform="translate(1593.8 163.7) scale(1.067 1)">SAH220</text>
<text transform="translate(1593.8 225.2) scale(1.067 1)">SAH180</text>
<text transform="translate(1593.8 289.1) scale(1.067 1)">H260</text>
<text transform="translate(1593.8 351.9) scale(1.067 1)">H220</text>
<text transform="translate(1593.8 413.8) scale(1.067 1)">H180</text>
<text transform="translate(1593.8 475.9) scale(1.067 1)">Raw</text>
</g>
</g>
</svg>
</body></html>
